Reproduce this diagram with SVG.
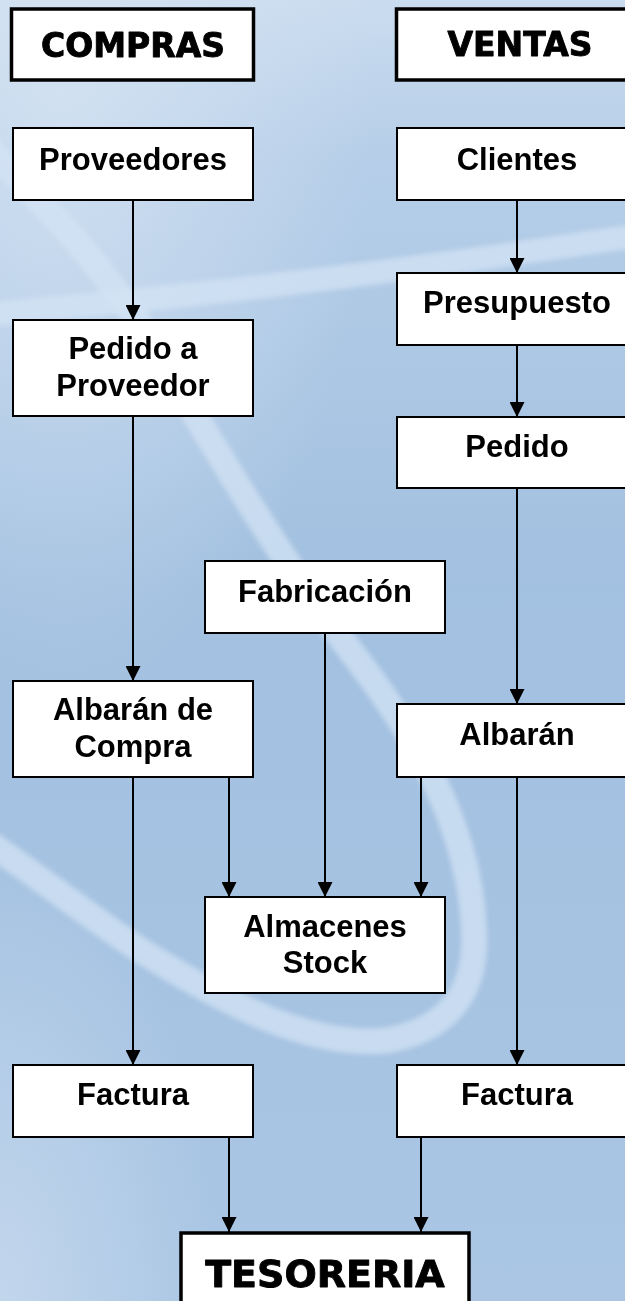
<svg xmlns="http://www.w3.org/2000/svg" width="625" height="1301" viewBox="0 0 625 1301">
<defs>
  <linearGradient id="bg" x1="0" y1="0" x2="0" y2="1">
    <stop offset="0" stop-color="#cadcef"/>
    <stop offset="0.12" stop-color="#b6cee8"/>
    <stop offset="0.45" stop-color="#a2c0e0"/>
    <stop offset="1" stop-color="#aac6e4"/>
  </linearGradient>
  <radialGradient id="glowTL" cx="0.1" cy="0.05" r="0.5">
    <stop offset="0" stop-color="#d6e4f3" stop-opacity="0.8"/>
    <stop offset="1" stop-color="#d6e4f3" stop-opacity="0"/>
  </radialGradient>
  <radialGradient id="glowBL" cx="0" cy="1" r="0.35">
    <stop offset="0" stop-color="#c8daee" stop-opacity="0.8"/>
    <stop offset="1" stop-color="#c8daee" stop-opacity="0"/>
  </radialGradient>
  <filter id="soft" x="-10%" y="-10%" width="120%" height="120%">
    <feGaussianBlur stdDeviation="2.5"/>
  </filter>
  <marker id="arrow" markerUnits="userSpaceOnUse" markerWidth="15" markerHeight="15" viewBox="0 0 15 15" refX="15" refY="7.5" orient="auto">
    <path d="M0,0 L15,7.5 L0,15 Z" fill="#000"/>
  </marker>
  <style>
    .box { fill: #ffffff; stroke: #000; stroke-width: 2; }
    .hbox { fill: #ffffff; stroke: #000; stroke-width: 3.5; }
    .lbl { font-family: "Liberation Sans", Arial, sans-serif; font-weight: bold; font-size: 31px; fill: #000; text-anchor: middle; }
    .hdr { font-family: "DejaVu Sans", "Liberation Sans", sans-serif; font-weight: bold; font-size: 33px; fill: #000; stroke: #000; stroke-width: 0.9; stroke-linejoin: round; text-anchor: middle; }
    .con { stroke: #000; stroke-width: 2; fill: none; marker-end: url(#arrow); }
    .swoosh { fill: none; stroke: #d3e3f4; stroke-linecap: round; opacity: 0.75; }
  </style>
</defs>

<g id="background">
  <rect x="0" y="0" width="625" height="1301" fill="url(#bg)"/>
  <rect x="0" y="0" width="625" height="1301" fill="url(#glowTL)"/>
  <rect x="0" y="0" width="625" height="1301" fill="url(#glowBL)"/>
  <g filter="url(#soft)">
    <path class="swoosh" stroke-width="26" d="M-30,130 C40,200 100,260 150,340 C210,440 280,560 350,650 C420,740 470,830 474,930 C478,1000 440,1030 390,1040 C310,1050 220,1000 140,950 C80,910 30,870 -30,830"/>
    <path class="swoosh" stroke-width="24" d="M-30,316 C150,300 350,280 660,232"/>
  </g>
</g>

<g id="connectors">
  <line class="con" x1="133" y1="200" x2="133" y2="320"/>
  <line class="con" x1="517" y1="200" x2="517" y2="273"/>
  <line class="con" x1="517" y1="345" x2="517" y2="417"/>
  <line class="con" x1="133" y1="416" x2="133" y2="681"/>
  <line class="con" x1="517" y1="488" x2="517" y2="704"/>
  <line class="con" x1="229" y1="777" x2="229" y2="897"/>
  <line class="con" x1="325" y1="633" x2="325" y2="897"/>
  <line class="con" x1="421" y1="777" x2="421" y2="897"/>
  <line class="con" x1="133" y1="777" x2="133" y2="1065"/>
  <line class="con" x1="517" y1="777" x2="517" y2="1065"/>
  <line class="con" x1="229" y1="1137" x2="229" y2="1232"/>
  <line class="con" x1="421" y1="1137" x2="421" y2="1232"/>
</g>

<g id="compras">
  <rect class="hbox" x="11.5" y="9" width="242" height="71"/>
  <text class="hdr" x="133" y="57">COMPRAS</text>
</g>
<g id="ventas">
  <rect class="hbox" x="396.5" y="9" width="240" height="71"/>
  <text class="hdr" x="520" y="56">VENTAS</text>
</g>
<g id="proveedores">
  <rect class="box" x="13" y="128" width="240" height="72"/>
  <text class="lbl" x="133" y="170">Proveedores</text>
</g>
<g id="clientes">
  <rect class="box" x="397" y="128" width="240" height="72"/>
  <text class="lbl" x="517" y="170">Clientes</text>
</g>
<g id="presupuesto">
  <rect class="box" x="397" y="273" width="240" height="72"/>
  <text class="lbl" x="517" y="313">Presupuesto</text>
</g>
<g id="pedido-proveedor">
  <rect class="box" x="13" y="320" width="240" height="96"/>
  <text class="lbl" x="133" y="359">Pedido a</text>
  <text class="lbl" x="133" y="396">Proveedor</text>
</g>
<g id="pedido">
  <rect class="box" x="397" y="417" width="240" height="71"/>
  <text class="lbl" x="517" y="457">Pedido</text>
</g>
<g id="fabricacion">
  <rect class="box" x="205" y="561" width="240" height="72"/>
  <text class="lbl" x="325" y="602">Fabricación</text>
</g>
<g id="albaran-compra">
  <rect class="box" x="13" y="681" width="240" height="96"/>
  <text class="lbl" x="133" y="720">Albarán de</text>
  <text class="lbl" x="133" y="757">Compra</text>
</g>
<g id="albaran">
  <rect class="box" x="397" y="704" width="240" height="73"/>
  <text class="lbl" x="517" y="745">Albarán</text>
</g>
<g id="almacenes">
  <rect class="box" x="205" y="897" width="240" height="96"/>
  <text class="lbl" x="325" y="937">Almacenes</text>
  <text class="lbl" x="325" y="973">Stock</text>
</g>
<g id="factura-compra">
  <rect class="box" x="13" y="1065" width="240" height="72"/>
  <text class="lbl" x="133" y="1105">Factura</text>
</g>
<g id="factura-venta">
  <rect class="box" x="397" y="1065" width="240" height="72"/>
  <text class="lbl" x="517" y="1105">Factura</text>
</g>
<g id="tesoreria">
  <rect class="hbox" x="181" y="1233" width="288" height="90"/>
  <text class="hdr" x="325" y="1287" style="font-size:38px">TESORERIA</text>
</g>
</svg>
